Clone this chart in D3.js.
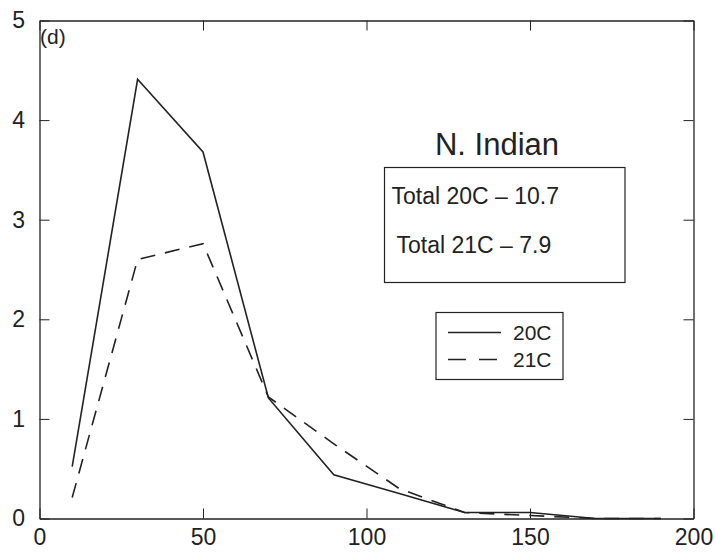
<!DOCTYPE html>
<html>
<head>
<meta charset="utf-8">
<script src="https://cdn.jsdelivr.net/npm/d3@7"></script>
<style>
  html, body { margin: 0; padding: 0; background: #fff; }
  svg { display: block; }
</style>
</head>
<body>
<script>
// Intensity bins (x) and counts for the two periods
const bins = [10, 30, 50, 70, 90, 110, 130, 150, 170, 190];
const series20C = [0.52, 4.41, 3.68, 1.21, 0.44, 0.25, 0.06, 0.06, 0.0, 0.0];
const series21C = [0.21, 2.60, 2.76, 1.22, 0.75, 0.30, 0.06, 0.03, 0.0, 0.0];
const xTicks = [0, 50, 100, 150, 200];
const yTicks = [0, 1, 2, 3, 4, 5];
const panelLabel = "(d)";
const basinTitle = "N. Indian";
const totals = ["Total 20C \u2013 10.7", "Total 21C \u2013 7.9"];
const legendLabels = ["20C", "21C"];

const W = 715, H = 554;
const margin = { left: 39.5, top: 20.5, right: W - 693.5, bottom: H - 518.5 };

const svg = d3.select("body").append("svg").attr("width", W).attr("height", H);

const x = d3.scaleLinear().domain([0, 200]).range([margin.left, W - margin.right]);
const y = d3.scaleLinear().domain([0, 5]).range([H - margin.bottom, margin.top]);

const ink = "#222";
const textFont = "'Liberation Sans', Arial, sans-serif";
const fmt = d3.format("d");

// Frame with inward ticks on all four sides
function styleAxis(g) {
  g.select(".domain").attr("stroke", ink).attr("stroke-width", 1.3);
  g.selectAll(".tick line").attr("stroke", ink).attr("stroke-width", 1);
  g.selectAll(".tick text").attr("fill", ink).attr("font-family", textFont).attr("font-size", 23);
}

svg.append("g")
  .attr("transform", `translate(0,${y(0)})`)
  .call(d3.axisBottom(x).tickValues(xTicks).tickSize(-10).tickSizeOuter(0).tickPadding(10).tickFormat(fmt))
  .call(styleAxis);

svg.append("g")
  .attr("transform", `translate(0,${y(5)})`)
  .call(d3.axisTop(x).tickValues(xTicks).tickSize(-10).tickSizeOuter(0).tickFormat(""))
  .call(styleAxis);

svg.append("g")
  .attr("transform", `translate(${x(0)},0)`)
  .call(d3.axisLeft(y).tickValues(yTicks).tickSize(-10).tickSizeOuter(0).tickPadding(14.5).tickFormat(fmt))
  .call(styleAxis);

svg.append("g")
  .attr("transform", `translate(${x(200)},0)`)
  .call(d3.axisRight(y).tickValues(yTicks).tickSize(-10).tickSizeOuter(0).tickFormat(""))
  .call(styleAxis);

// Distribution curves
const line = d3.line().x((d, i) => x(bins[i])).y(d => y(d));

svg.append("path")
  .datum(series20C)
  .attr("d", line)
  .attr("fill", "none")
  .attr("stroke", ink)
  .attr("stroke-width", 1.6);

svg.append("path")
  .datum(series21C)
  .attr("d", line)
  .attr("fill", "none")
  .attr("stroke", ink)
  .attr("stroke-width", 1.6)
  .attr("stroke-dasharray", "15,10");

// Panel label
svg.append("text")
  .attr("x", x(0) + 0.5).attr("y", 44)
  .attr("font-family", textFont).attr("font-size", 21).attr("fill", ink)
  .text(panelLabel);

// Basin title and totals box
svg.append("text")
  .attr("x", 497).attr("y", 155)
  .attr("text-anchor", "middle")
  .attr("font-family", textFont).attr("font-size", 31).attr("fill", ink)
  .text(basinTitle);

svg.append("rect")
  .attr("x", 384.5).attr("y", 167.5).attr("width", 240.5).attr("height", 115)
  .attr("fill", "none").attr("stroke", ink).attr("stroke-width", 1.2);

svg.selectAll("text.total")
  .data(totals)
  .join("text")
  .attr("class", "total")
  .attr("x", (d, i) => i === 0 ? 391.5 : 396.5)
  .attr("y", (d, i) => i === 0 ? 204 : 253)
  .attr("font-family", textFont).attr("font-size", 23).attr("fill", ink)
  .text(d => d);

// Legend
svg.append("rect")
  .attr("x", 436).attr("y", 312.5).attr("width", 127).attr("height", 67)
  .attr("fill", "none").attr("stroke", ink).attr("stroke-width", 1.2);

const legendRows = [
  { label: legendLabels[0], dash: null, y: 332.5 },
  { label: legendLabels[1], dash: "18,13", y: 359.5 }
];

const lg = svg.selectAll("g.legend-row").data(legendRows).join("g").attr("class", "legend-row");
lg.append("line")
  .attr("x1", 448).attr("x2", 501)
  .attr("y1", d => d.y).attr("y2", d => d.y)
  .attr("stroke", ink).attr("stroke-width", 1.4)
  .attr("stroke-dasharray", d => d.dash);
lg.append("text")
  .attr("x", 513).attr("y", d => d.y + 7.5)
  .attr("font-family", textFont).attr("font-size", 21).attr("fill", ink)
  .text(d => d.label);
</script>
</body>
</html>
